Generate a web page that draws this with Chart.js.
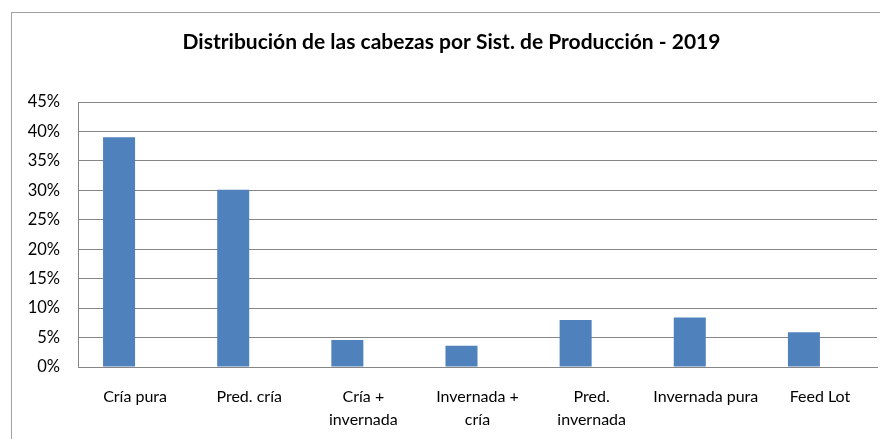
<!DOCTYPE html>
<html>
<head>
<meta charset="utf-8">
<script src="https://cdn.jsdelivr.net/npm/chart.js@4.4.1/dist/chart.umd.min.js"></script>
<style>
  html,body{margin:0;padding:0;background:#fff;overflow:hidden;}
  #wrap{position:relative;width:880px;height:439px;}
  #frame{position:absolute;left:11px;top:12px;width:900px;height:460px;border:1px solid #a0a0a0;box-sizing:border-box;}
  canvas{position:absolute;left:0;top:0;}
</style>
</head>
<body>
<div id="wrap">
  <div id="frame"></div>
  <canvas id="c" width="880" height="439"></canvas>
</div>
<script>
const titleText = 'Distribución de las cabezas por Sist. de Producción - 2019';
const categories = [
  'Cría pura',
  'Pred. cría',
  ['Cría +', 'invernada'],
  ['Invernada +', 'cría'],
  ['Pred.', 'invernada'],
  'Invernada pura',
  'Feed Lot'
];
const shares = [39.0, 30.1, 4.6, 3.6, 8.0, 8.4, 5.9];
const emptySeries = [null, null, null, null, null, null, null];
const yTicks = [0, 5, 10, 15, 20, 25, 30, 35, 40, 45];

const FONT = 'Lato, "Open Sans", "Liberation Sans", sans-serif';

new Chart(document.getElementById('c'), {
  type: 'bar',
  data: {
    labels: categories,
    datasets: [
      { label: 'Cabezas', data: shares, backgroundColor: '#4F81BD', borderWidth: 0 },
      { label: '', data: emptySeries, backgroundColor: '#C0504D', borderWidth: 0 }
    ]
  },
  options: {
    responsive: false,
    animation: false,
    devicePixelRatio: 1,
    layout: { padding: { left: 26, right: 3, top: 0, bottom: 0 } },
    categoryPercentage: 0.561,
    barPercentage: 1.0,
    plugins: {
      legend: { display: false },
      tooltip: { enabled: false },
      title: {
        display: true,
        text: titleText,
        color: '#000',
        font: { family: FONT, size: 21, weight: 'bold', lineHeight: 1.2 },
        padding: { top: 29.4, bottom: 47.4 }
      }
    },
    scales: {
      x: {
        grid: { display: false, drawTicks: false },
        border: { display: true, color: '#868686', width: 1 },
        ticks: {
          color: '#000',
          font: { family: FONT, size: 16, lineHeight: 1.44 },
          padding: 18.5,
          maxRotation: 0,
          autoSkip: false
        },
        afterFit(scale) { scale.height = 72; }
      },
      y: {
        min: 0,
        max: 45,
        afterBuildTicks(scale) { scale.ticks = yTicks.map(v => ({ value: v })); },
        grid: { color: '#868686', drawTicks: false, lineWidth: 1 },
        border: { display: true, color: '#868686', width: 1 },
        ticks: {
          color: '#000',
          font: { family: FONT, size: 16.5 },
          padding: 18,
          callback: v => v + '%'
        },
        afterFit(scale) { scale.width = 52; }
      }
    }
  }
});
</script>
</body>
</html>
